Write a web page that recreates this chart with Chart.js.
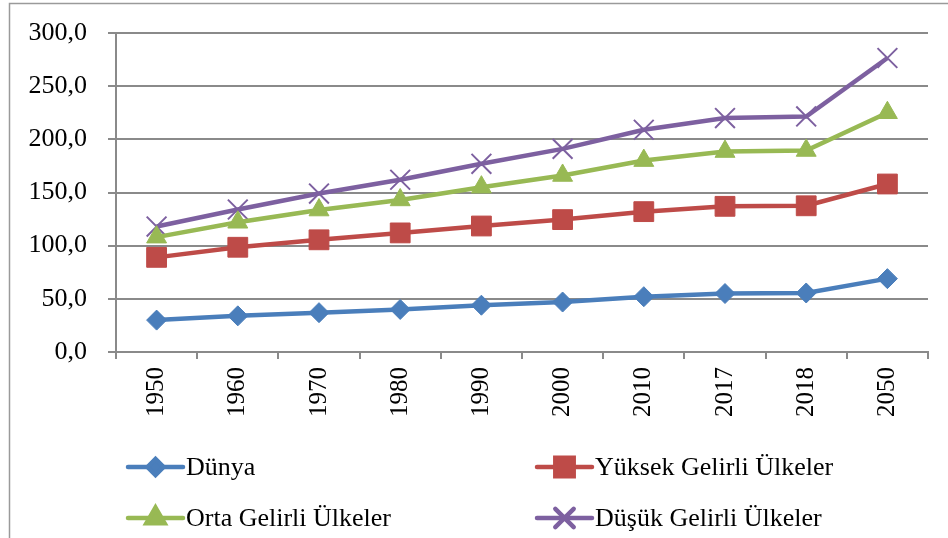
<!DOCTYPE html>
<html>
<head>
<meta charset="utf-8">
<script src="https://cdn.jsdelivr.net/npm/chart.js@4/dist/chart.umd.min.js"></script>
<style>
html,body{margin:0;padding:0;background:#fff;}
#wrap{position:relative;width:948px;height:538px;}
</style>
</head>
<body>
<div id="wrap"><canvas id="c" width="948" height="538"></canvas></div>
<script>
const categories = ['1950','1960','1970','1980','1990','2000','2010','2017','2018','2050'];
const dunya  = [30, 34, 37, 40, 44, 47, 52, 55, 55.5, 69];
const yuksek = [89, 98.5, 105.5, 112, 118.5, 124.5, 132, 137, 137.5, 158];
const orta   = [108, 122, 133.5, 143, 155, 166, 180, 188.5, 189.5, 225];
const dusuk  = [118, 134, 149, 162, 177, 191, 209, 220, 221.5, 276.5];
const seriesNames = ['Dünya','Yüksek Gelirli Ülkeler','Orta Gelirli Ülkeler','Düşük Gelirli Ülkeler'];
const yTicks = [0, 50, 100, 150, 200, 250, 300];

const FONT = "'Liberation Serif', 'Times New Roman', serif";
const GRID = '#8a8a8a';

const frame = {
  id: 'frame',
  beforeDraw(chart) {
    const ctx = chart.ctx;
    ctx.save();
    ctx.fillStyle = '#fff';
    ctx.fillRect(0, 0, chart.width, chart.height);
    ctx.strokeStyle = '#9a9a9a';
    ctx.lineWidth = 1.5;
    ctx.strokeRect(9.5, 3.5, 1000, 600);
    ctx.restore();
  }
};

const legendPos = [
  {x: 128, y: 467}, {x: 537, y: 467},
  {x: 128, y: 518}, {x: 537, y: 518}
];
const customLegend = {
  id: 'customLegend',
  afterDraw(chart) {
    const ctx = chart.ctx;
    ctx.save();
    chart.data.datasets.forEach((ds, i) => {
      const p = legendPos[i];
      ctx.strokeStyle = ds.borderColor;
      ctx.lineWidth = 4.5;
      ctx.lineCap = 'round';
      ctx.beginPath();
      ctx.moveTo(p.x, p.y);
      ctx.lineTo(p.x + 55, p.y);
      ctx.stroke();
      ctx.fillStyle = ds.pointBackgroundColor;
      ctx.strokeStyle = ds.pointBorderColor;
      Chart.helpers.drawPoint(ctx, {
        pointStyle: ds.pointStyle,
        radius: ds.legendRadius,
        rotation: 0,
        borderWidth: ds.pointBorderWidth
      }, p.x + 27.5, p.y);
      ctx.fillStyle = '#000';
      ctx.font = '26px ' + FONT;
      ctx.textBaseline = 'middle';
      ctx.textAlign = 'left';
      ctx.fillText(ds.label, p.x + 58, p.y + 1);
    });
    ctx.restore();
  }
};

function mk(label, data, color, style, radius, bw, legendRadius) {
  return {
    label, data,
    borderColor: color,
    backgroundColor: color,
    borderWidth: 4.5,
    pointStyle: style,
    pointRadius: radius,
    pointHoverRadius: radius,
    pointBackgroundColor: color,
    pointBorderColor: color,
    pointBorderWidth: bw,
    legendRadius: legendRadius,
    tension: 0,
    fill: false
  };
}

new Chart(document.getElementById('c'), {
  type: 'line',
  data: {
    labels: categories,
    datasets: [
      mk(seriesNames[0], dunya,  '#4A7EBB', 'rectRot', 10, 1, 8),
      mk(seriesNames[1], yuksek, '#BE4B48', 'rect', 14, 1, 13),
      mk(seriesNames[2], orta,   '#98B954', 'triangle', 11.5, 1, 10.5),
      mk(seriesNames[3], dusuk,  '#7D60A0', 'crossRot', 14, 2, 13)
    ]
  },
  options: {
    responsive: false,
    animation: false,
    devicePixelRatio: 1,
    layout: { padding: { left: 20, right: 20, top: 33, bottom: 100 } },
    plugins: {
      legend: { display: false },
      title: { display: false },
      tooltip: { enabled: false }
    },
    scales: {
      x: {
        offset: true,
        grid: {
          offset: true,
          drawOnChartArea: false,
          drawTicks: true,
          tickLength: 7,
          color: GRID,
          lineWidth: 2
        },
        border: { color: GRID, width: 2 },
        ticks: {
          minRotation: 90,
          maxRotation: 90,
          padding: 8,
          color: '#000',
          font: { family: FONT, size: 25 }
        },
        afterFit(scale) { scale.height = 86; scale.paddingLeft = 0; scale.paddingRight = 0; }
      },
      y: {
        min: 0,
        max: 300,
        afterBuildTicks(scale) { scale.ticks = yTicks.map(v => ({ value: v })); },
        grid: {
          color: GRID,
          lineWidth: 2,
          drawTicks: true,
          tickLength: 8
        },
        border: { color: GRID, width: 2 },
        ticks: {
          padding: 21,
          color: '#000',
          font: { family: FONT, size: 26 },
          callback: (v) => v.toFixed(1).replace('.', ',')
        },
        afterFit(scale) { scale.width = 96; scale.paddingTop = 0; scale.paddingBottom = 0; }
      }
    }
  },
  plugins: [frame, customLegend]
});
</script>
</body>
</html>
